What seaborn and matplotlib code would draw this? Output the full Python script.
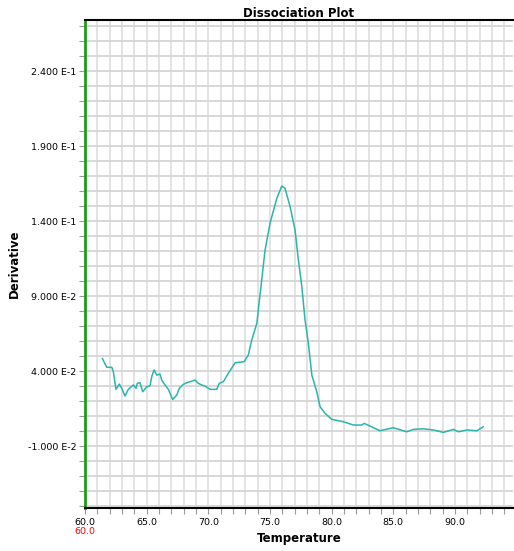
import matplotlib
matplotlib.use("Agg")
import matplotlib.pyplot as plt
import seaborn as sns
import pandas as pd
import numpy as np

temperature = [61.40, 61.76, 62.17, 62.30, 62.51, 62.78, 62.98, 63.24, 63.51, 63.92,
               64.14, 64.24, 64.46, 64.68, 65.00, 65.27, 65.41, 65.60, 65.82, 66.08,
               66.22, 66.49, 66.76, 67.11, 67.44, 67.65, 67.97, 68.25, 68.52, 68.92,
               69.19, 69.46, 69.73, 70.14, 70.68, 70.89, 71.22, 71.62, 72.17, 72.90,
               73.24, 73.52, 73.93, 74.60, 75.00, 75.55, 75.95, 76.22, 76.63, 77.03,
               77.30, 77.58, 77.84, 78.11, 78.39, 78.79, 79.06, 79.46, 80.01, 80.95,
               81.76, 82.44, 82.63, 83.11, 83.92, 85.00, 86.09, 86.63, 87.44, 88.25,
               89.06, 89.87, 90.28, 90.96, 91.77, 92.30]
derivative = [0.0485, 0.0425, 0.0425, 0.0395, 0.0278, 0.0313, 0.0285, 0.0233, 0.0278, 0.0307,
              0.0285, 0.0318, 0.0322, 0.0262, 0.0295, 0.0302, 0.0362, 0.0407, 0.0373, 0.0380,
              0.0340, 0.0307, 0.0278, 0.0211, 0.0240, 0.0285, 0.0311, 0.0322, 0.0329, 0.0340,
              0.0318, 0.0307, 0.0300, 0.0278, 0.0278, 0.0318, 0.0329, 0.0385, 0.0455, 0.0462,
              0.0507, 0.0607, 0.0718, 0.1207, 0.1385, 0.1551, 0.1633, 0.1618, 0.1495, 0.1340,
              0.1140, 0.0962, 0.0740, 0.0585, 0.0373, 0.0262, 0.0162, 0.0118, 0.0078, 0.0062,
              0.0040, 0.0040, 0.0051, 0.0033, 0.0002, 0.0022, -0.0005, 0.0011, 0.0015, 0.0007,
              -0.0009, 0.0011, -0.0005, 0.0007, 0.0002, 0.0029]

x_ticks = [60, 65, 70, 75, 80, 85, 90]
x_tick_labels = ["60.0", "65.0", "70.0", "75.0", "80.0", "85.0", "90.0"]
y_ticks = [0.24, 0.19, 0.14, 0.09, 0.04, -0.01]
y_tick_labels = ["2.400 E-1", "1.900 E-1", "1.400 E-1", "9.000 E-2", "4.000 E-2", "-1.000 E-2"]

df = pd.DataFrame({"Temperature": temperature, "Derivative": derivative})

sns.set_style("white")
plt.rcParams['font.family'] = ['DejaVu Sans']

fig = plt.figure(figsize=(5.14, 5.51), dpi=100)
ax = fig.add_axes([85/514, 1 - 508/551, (513 - 85)/514, (508 - 20)/551])

xmin, xmax = 60.0, 94.7
ymin, ymax = -0.0513, 0.2740
ax.set_xlim(xmin, xmax)
ax.set_ylim(ymin, ymax)

# grid
for xv in np.arange(61, 95, 1):
    ax.axvline(xv, color="#e0e0e0", lw=1.3, zorder=0)
for yv in np.arange(-0.05, 0.275, 0.01):
    ax.axhline(yv, color="#d6d6d6", lw=1.3, zorder=0)

sns.lineplot(data=df, x="Temperature", y="Derivative", ax=ax, color="#2ab5ad",
             lw=1.1, estimator=None, sort=False, zorder=3)

ax.set_xticks(x_ticks)
ax.set_xticklabels(x_tick_labels, fontsize=6.8)
ax.set_xticks(np.arange(60, 95, 1), minor=True)
ax.set_yticks(y_ticks)
ax.set_yticklabels(y_tick_labels, fontsize=6.8)
ax.set_yticks(np.arange(-0.05, 0.275, 0.01), minor=True)
ax.tick_params(axis="both", which="both", direction="out", length=4, width=0.8,
               color="#999999", labelcolor="black", left=True, bottom=True)
ax.tick_params(axis="x", which="both", pad=3)
ax.tick_params(axis="y", which="both", pad=2)

ax.spines["right"].set_visible(False)
ax.spines["left"].set_color("#1a9e1a")
ax.spines["left"].set_linewidth(2)
ax.spines["bottom"].set_color("black")
ax.spines["bottom"].set_linewidth(1.5)
ax.spines["top"].set_color("black")
ax.spines["top"].set_linewidth(1.5)

ax.set_title("Dissociation Plot", fontsize=8.5, fontweight="bold", pad=1, color="black")
ax.set_xlabel("Temperature", fontsize=8.5, fontweight="bold", labelpad=4, color="black")
ax.set_ylabel("Derivative", fontsize=8.5, fontweight="bold", labelpad=5, color="black")

ax.annotate("60.0", xy=(0, 0), xycoords="axes fraction", xytext=(0, -14),
            textcoords="offset points", color="red", fontsize=6.8, ha="center", va="top")

fig.savefig("out.png", dpi=100)
